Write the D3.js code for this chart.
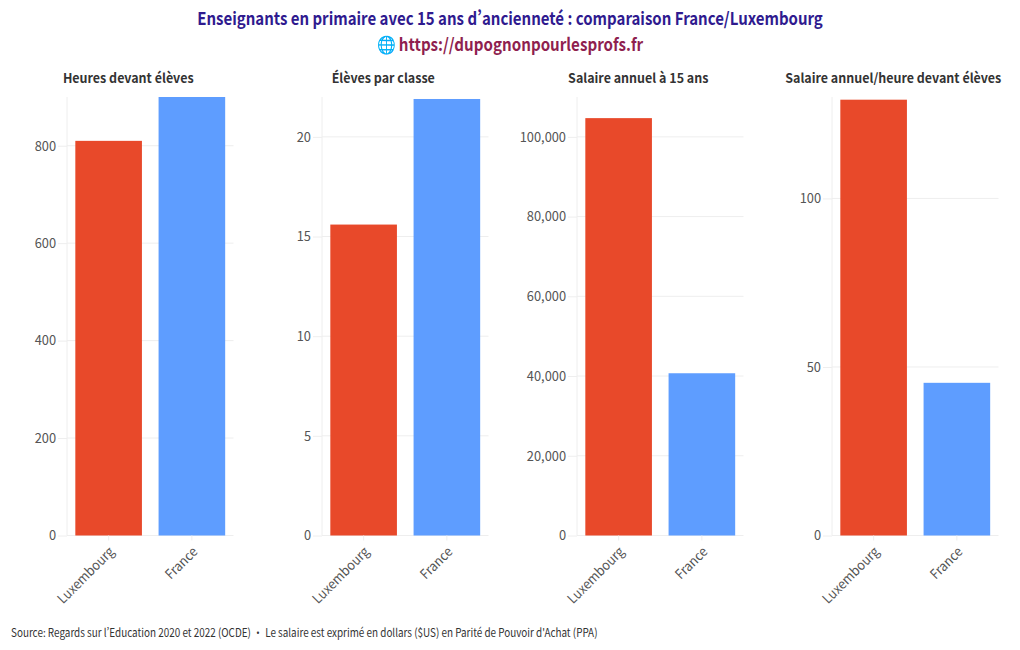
<!DOCTYPE html>
<html><head><meta charset="utf-8">
<script src="https://cdn.jsdelivr.net/npm/d3@7/dist/d3.min.js"></script>
<style>
html,body{margin:0;padding:0;background:#fff}
svg{display:block}
text{font-family:"Noto Sans CJK SC","Noto Sans",sans-serif;font-feature-settings:"pwid"}
</style></head><body>
<svg id="c" width="1020" height="650"></svg>
<script>
const categories = ["Luxembourg", "France"];
const panelTitles = ["Heures devant élèves", "Élèves par classe", "Salaire annuel à 15 ans", "Salaire annuel/heure devant élèves"];
const heures = [810, 900];
const eleves = [15.6, 21.9];
const salaire = [104700, 40700];
const salaireHeure = [129.3, 45.3];
const seriesList = [heures, eleves, salaire, salaireHeure];
const yMax = [900, 22, 110000, 130.1];
const yTicks = [[0,200,400,600,800],[0,5,10,15,20],[0,20000,40000,60000,80000,100000],[0,50,100]];
const colors = ["#e8492a", "#5e9dff"];
const titleLine1 = "Enseignants en primaire avec 15 ans d’ancienneté : comparaison France/Luxembourg";
const titleLine2 = "https://dupognonpourlesprofs.fr";
const globe = "🌐";
const source = "Source: Regards sur l’Education 2020 et 2022 (OCDE) • Le salaire est exprimé en dollars ($US) en Parité de Pouvoir d'Achat (PPA)";

const svg = d3.select("#c");
const panelLeft = [67, 322, 577, 832], pw = 166.5, plotTop = 97, plotBottom = 535.5;
const condense = (sel,k)=>sel.each(function(){
  this.setAttribute("textLength", this.getComputedTextLength()*k);
  this.setAttribute("lengthAdjust","spacingAndGlyphs");
});

svg.append("text").attr("x",510).attr("y",25).attr("text-anchor","middle")
  .attr("font-size",17.5).attr("font-weight",700).attr("fill","#2f1a8f").text(titleLine1).call(condense,0.857);
const t2 = svg.append("text").attr("transform","translate(510,50.5) scale(0.865,1)").attr("text-anchor","middle")
  .attr("font-size",17.5).attr("font-weight",700);
t2.append("tspan").attr("fill","#1e90d6").text(globe+" ");
t2.append("tspan").attr("fill","#8f1f4f").text(titleLine2);

seriesList.forEach((vals,i)=>{
  const g = svg.append("g").attr("transform",`translate(${panelLeft[i]},0)`);
  const x = d3.scaleBand().domain(categories).range([0,pw]).paddingInner(0.2).paddingOuter(0.1);
  const y = d3.scaleLinear().domain([0,yMax[i]]).range([plotBottom,plotTop]);
  g.append("g").selectAll("line").data(yTicks[i]).join("line")
    .attr("x1",0).attr("x2",pw).attr("y1",d=>y(d)).attr("y2",d=>y(d))
    .attr("stroke","#eeeeee").attr("stroke-width",1);
  g.append("line").attr("x1",0).attr("x2",0).attr("y1",plotTop).attr("y2",plotBottom).attr("stroke","#eeeeee");
  g.append("g").selectAll("rect").data(vals).join("rect")
    .attr("x",(d,k)=>x(categories[k])).attr("width",x.bandwidth())
    .attr("y",d=>y(d)).attr("height",d=>plotBottom-y(d))
    .attr("fill",(d,k)=>colors[k]);
  const ya = d3.axisLeft(y).tickValues(yTicks[i]).tickSize(9).tickPadding(2).tickFormat(d3.format(","));
  const yg = g.append("g").call(ya);
  yg.select(".domain").remove();
  yg.selectAll("line").attr("stroke","#eeeeee");
  yg.selectAll("text").attr("font-size",13.5).attr("fill","#555555")
    .attr("font-family",'"Noto Sans CJK SC",sans-serif').call(condense,0.95);
  const xa = d3.axisBottom(x).tickSize(5).tickPadding(2);
  const xg = g.append("g").attr("transform",`translate(0,${plotBottom})`).call(xa);
  xg.select(".domain").remove();
  xg.selectAll("line").attr("stroke","#eeeeee");
  xg.selectAll("text").attr("font-size",13.5).attr("fill","#555555")
    .attr("font-family",'"Noto Sans CJK SC",sans-serif')
    .attr("text-anchor","end").attr("dy",0).attr("y",0)
    .attr("transform","translate(6.5,17) rotate(-45)").call(condense,0.93);
  g.append("text").attr("x",pw/2-22).attr("y",83).attr("text-anchor","middle")
    .attr("font-size",13).attr("font-weight",700).attr("fill","#333333").text(panelTitles[i]).call(condense,0.96);
});
svg.append("text").attr("x",11).attr("y",637).attr("font-size",11.5).attr("fill","#333333").text(source).call(condense,0.86);
</script></body></html>
